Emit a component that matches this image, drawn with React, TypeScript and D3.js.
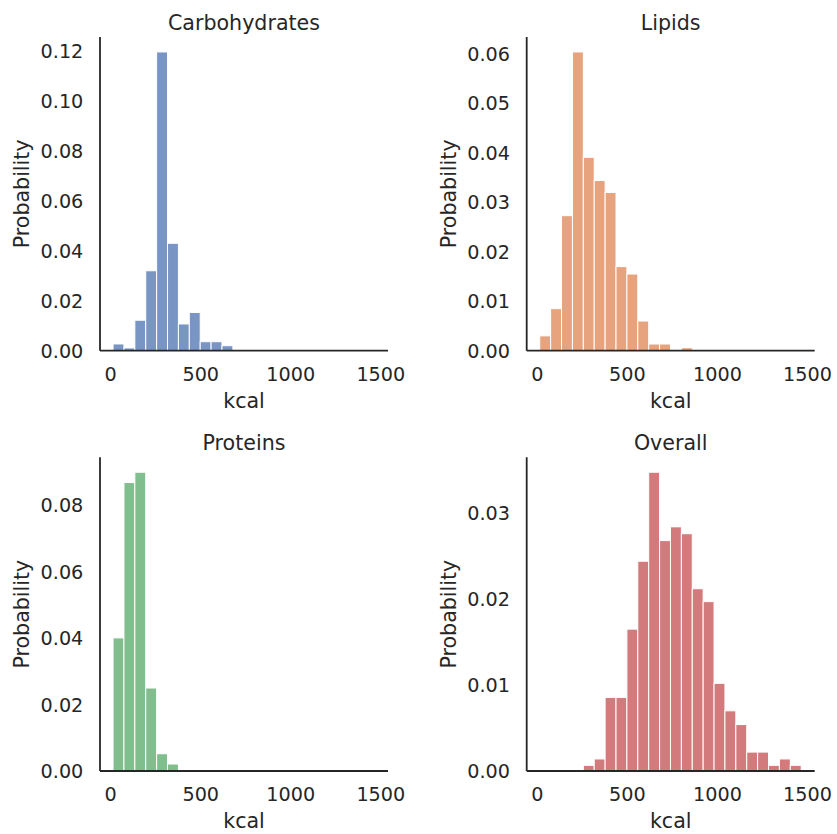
import React from "react";
import * as d3 from "d3";

// Histogram bins (kcal)
const binStart = 13;
const binWidth = 60.5;

const carbohydrates = [0.0027, 0.0011, 0.0122, 0.032, 0.1196, 0.043, 0.0107, 0.0153, 0.0036, 0.0036, 0.002];
const lipids = [0.003, 0.0085, 0.0273, 0.0604, 0.0391, 0.0344, 0.032, 0.017, 0.0155, 0.006, 0.00135, 0.00135, 0, 0.0006];
const proteins = [0.0401, 0.0869, 0.09, 0.025, 0.0052, 0.0021];
const overall = [0, 0, 0, 0, 0.00066, 0.0014, 0.00856, 0.00856, 0.0165, 0.0244, 0.03475, 0.0268, 0.0284, 0.0276,
  0.0212, 0.0197, 0.0102, 0.007, 0.0054, 0.0022, 0.0022, 0.00066, 0.0014, 0.00066];

const titles = ["Carbohydrates", "Lipids", "Proteins", "Overall"];
const colors = ["#4C72B0", "#DD8452", "#55A868", "#C44E52"];
const xTicks = [0, 500, 1000, 1500];
const yTicksCarb = [0, 0.02, 0.04, 0.06, 0.08, 0.1, 0.12];
const yTicksLip = [0, 0.01, 0.02, 0.03, 0.04, 0.05, 0.06];
const yTicksProt = [0, 0.02, 0.04, 0.06, 0.08];
const yTicksOver = [0, 0.01, 0.02, 0.03];

const W = 837;
const H = 834;
const FONT = "DejaVu Sans, sans-serif";
const TXT = "#262626";

const panels = [
  { title: titles[0], values: carbohydrates, color: colors[0], yTicks: yTicksCarb, left: 100, top: 37 },
  { title: titles[1], values: lipids, color: colors[1], yTicks: yTicksLip, left: 526.7, top: 37 },
  { title: titles[2], values: proteins, color: colors[2], yTicks: yTicksProt, left: 100, top: 457.3 },
  { title: titles[3], values: overall, color: colors[3], yTicks: yTicksOver, left: 526.7, top: 457.3 },
];
const PW = 288;
const PH = 313.7;

function Panel({ p }: { p: (typeof panels)[number] }) {
  const x = d3.scaleLinear().domain([-59.5, 1540]).range([0, PW]);
  const ymax = (d3.max(p.values) as number) * 1.05;
  const y = d3.scaleLinear().domain([0, ymax]).range([PH, 0]);
  return (
    <g transform={`translate(${p.left},${p.top})`}>
      {p.values.map((v, i) => {
        if (v <= 0) return null;
        const x0 = x(binStart + i * binWidth);
        const x1 = x(binStart + (i + 1) * binWidth);
        return (
          <rect
            key={i}
            x={x0}
            y={y(v)}
            width={x1 - x0}
            height={PH - y(v)}
            fill={p.color}
            fillOpacity={0.75}
            stroke="#ffffff"
            strokeWidth={1}
          />
        );
      })}
      <line x1={0} x2={0} y1={0} y2={PH} stroke={TXT} strokeWidth={1.8} />
      <line x1={0} x2={PW} y1={PH} y2={PH} stroke={TXT} strokeWidth={1.8} />
      {xTicks.map((t) => (
        <text key={t} x={x(t)} y={PH + 30.5} textAnchor="middle" fontSize={19.2} fill={TXT} fontFamily={FONT}>
          {t}
        </text>
      ))}
      {p.yTicks.map((t) => (
        <text key={t} x={-16.7} y={y(t)} dy="0.36em" textAnchor="end" fontSize={19.2} fill={TXT} fontFamily={FONT}>
          {d3.format(".2f")(t)}
        </text>
      ))}
      <text x={PW / 2} y={PH + 57} textAnchor="middle" fontSize={20.6} fill={TXT} fontFamily={FONT}>
        kcal
      </text>
      <text
        transform={`translate(${-70.7},${PH / 2}) rotate(-90)`}
        textAnchor="middle"
        fontSize={20.6}
        fill={TXT}
        fontFamily={FONT}
      >
        Probability
      </text>
      <text x={PW / 2} y={-7.5} textAnchor="middle" fontSize={20.6} fill={TXT} fontFamily={FONT}>
        {p.title}
      </text>
    </g>
  );
}

export default function App() {
  return (
    <svg
      width={W}
      height={H}
      style={{ position: "absolute", left: 0, top: 0, background: "#ffffff" }}
    >
      <rect width={W} height={H} fill="#ffffff" />
      {panels.map((p) => (
        <Panel key={p.title} p={p} />
      ))}
    </svg>
  );
}
